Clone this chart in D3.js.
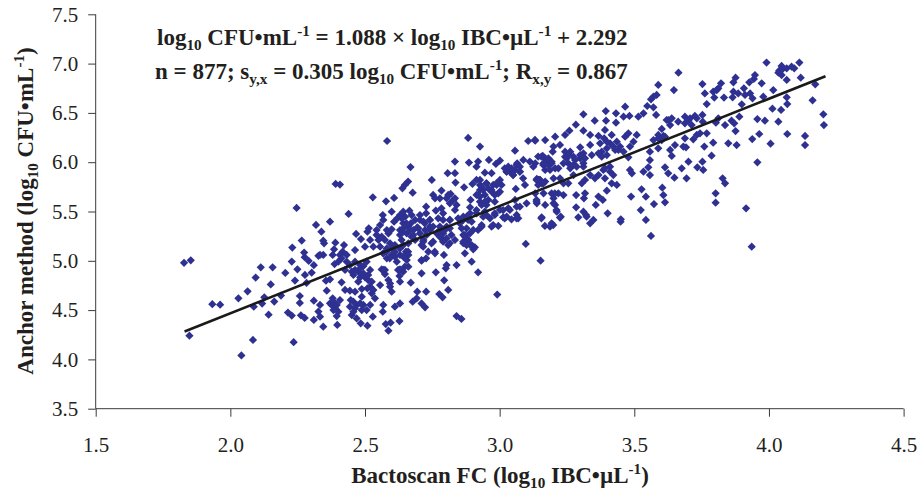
<!DOCTYPE html>
<html><head><meta charset="utf-8">
<script src="https://cdnjs.cloudflare.com/ajax/libs/d3/7.8.5/d3.min.js"></script>
<style>
html,body{margin:0;padding:0;background:#fff}
svg{display:block}
text{font-family:"Liberation Serif",serif;fill:#231f20}
.b{font-weight:bold}
</style></head><body><div id="c"></div>
<script>
const xTicks=[1.5,2.0,2.5,3.0,3.5,4.0,4.5];
const yTicks=[3.5,4.0,4.5,5.0,5.5,6.0,6.5,7.0,7.5];
const lineX=[1.83,4.21];
const lineY=[4.283,6.872];
const pairs=`1.828,4.98 1.853,5.005 1.848,4.24 1.933,4.56 1.962,4.555 2.03,4.62 2.064,4.69 2.094,4.83 2.113,4.934 2.157,4.934 2.15,4.76 2.126,4.63 2.087,4.535 2.118,4.566 2.163,4.586 2.188,4.647 2.142,4.454 2.084,4.197 2.041,4.04 2.235,4.174 2.214,4.475 2.228,4.444 2.262,4.447 2.276,4.42 2.31,4.40 2.327,4.485 2.31,4.596 2.258,4.643 2.258,4.573 2.283,4.775 2.24,4.8 2.277,4.857 2.302,4.88 2.204,4.877 2.249,4.914 2.228,4.992 2.31,4.955 2.291,4.998 2.276,5.036 2.274,5.083 2.23,5.134 2.265,5.205 2.327,5.05 2.318,5.364 2.246,5.536 2.391,5.78 2.407,5.773
2.529,5.644 2.578,5.603 2.608,5.637 2.677,5.691 2.439,5.475 2.37,5.397 2.338,5.295 2.345,5.204 2.348,5.177 2.345,5.059 2.333,5.059 2.39,5.184 2.422,5.16 2.385,5.116 2.38,5.059 2.417,5.093 2.413,5.025 2.387,4.967 2.432,5.059 2.463,5.109 2.467,5.272 2.485,5.221 2.514,5.329 2.509,5.295 2.519,5.211 2.5,5.143 2.543,5.312 2.556,5.363 2.566,5.464 2.568,5.414 2.599,5.498 2.608,5.397 2.63,5.464 2.649,5.448 2.665,5.508 2.642,5.38 2.661,5.346 2.686,5.414 2.704,5.464 2.727,5.549 2.727,5.481 2.717,5.397 2.68,5.312 2.655,5.278 2.63,5.312 2.587,5.278 2.574,5.211 2.55,5.211 2.531,5.143 2.556,5.143 2.581,5.126 2.611,5.16 2.636,5.211 2.661,5.177 2.686,5.211 2.71,5.16 2.729,5.262 2.741,5.346 2.652,5.093 2.661,5.059 2.63,5.059 2.599,5.059 2.581,5.025 2.618,4.991 2.71,5.001 2.727,5.025 2.661,4.94 2.642,4.89 2.63,4.913 2.562,4.913 2.574,4.866 2.628,4.846 2.63,4.788 2.67,4.778 2.587,4.805 2.556,4.754 2.593,4.738 2.599,4.687 2.506,4.991 2.463,4.991 2.444,4.957 2.426,4.907 2.482,4.957 2.475,4.89 2.457,4.856 2.482,4.832 2.494,4.873 2.519,4.907 2.512,4.805 2.519,4.738 2.525,4.67 2.537,4.619 2.413,4.782 2.355,4.798 2.37,4.812 2.358,4.697 2.426,4.704 2.444,4.697 2.463,4.687 2.488,4.714 2.488,4.636 2.457,4.585 2.444,4.535 2.469,4.552 2.494,4.552 2.519,4.552 2.488,4.501 2.451,4.45 2.469,4.416 2.529,4.433 2.484,4.366 2.509,4.342 2.568,4.552 2.566,4.484 2.611,4.535 2.63,4.568 2.694,4.687 2.727,4.687 2.692,4.619 2.677,4.585 2.71,4.568 2.723,4.528 2.577,4.359 2.595,4.372 2.628,4.389 2.587,4.291 2.345,4.332 2.397,4.349 2.407,4.602 2.389,4.569 2.376,4.552 2.383,4.501 2.401,4.484 2.333,4.552 2.333,4.433 2.37,4.569
2.883,6.246 2.927,6.158 3.057,6.117 3.106,6.215 3.131,6.226 2.834,6.006 2.886,5.996 2.92,6.006 2.914,5.955 2.96,6.023 3.001,6.016 2.986,5.982 2.807,5.888 2.834,5.888 2.945,5.894 2.97,5.888 3.019,5.938 3.038,5.904 3.05,5.871 3.065,5.989 3.088,6.023 3.075,5.904 3.112,6.006 3.125,5.955 3.143,6.057 2.748,5.82 2.836,5.793 2.899,5.779 2.868,5.745 2.927,5.82 3.001,5.82 2.951,5.786 2.989,5.769 2.927,5.718 2.97,5.718 2.914,5.668 2.945,5.668 2.995,5.685 3.06,5.729 3.137,5.82 3.143,5.769 2.784,5.712 2.753,5.668 2.778,5.634 2.818,5.678 2.834,5.634 2.815,5.583 2.84,5.566 2.892,5.617 2.927,5.6 2.951,5.566 2.982,5.6 3.057,5.617 3.1,5.583 3.137,5.6 2.763,5.509 2.89,5.543 2.79,5.482 2.815,5.414 2.772,5.431 2.865,5.448 2.89,5.482 2.914,5.482 2.945,5.499 3.001,5.516 3.032,5.533 3.075,5.549 2.982,5.465 3.013,5.441 3.063,5.465 3.044,5.421 3.069,5.431 2.964,5.431 2.896,5.397 2.933,5.363 2.97,5.347 2.995,5.353 2.92,5.313 2.865,5.414 2.877,5.33 2.865,5.262 2.89,5.279 2.79,5.279 2.766,5.279 2.803,5.228 2.753,5.194 2.815,5.178 2.871,5.194 2.89,5.161 2.908,5.137 3.097,5.171
2.793,5.059 2.803,4.957 2.80,4.924 2.84,4.957 2.763,4.883 2.794,4.802 2.809,4.704 2.776,4.663 2.788,4.63 2.896,4.991 2.92,4.883 2.991,4.657 2.84,4.44 2.858,4.41 3.152,5.001 2.871,5.076 2.902,5.116 2.76,5.076 2.71,4.873 2.639,5.735 2.66,5.803 2.648,5.769 2.669,5.951 2.582,6.215
3.466,6.563 3.394,6.519 3.311,6.486 3.432,6.496 3.46,6.462 3.482,6.469 3.515,6.462 3.353,6.421 3.395,6.421 3.432,6.401 3.283,6.381 3.311,6.32 3.259,6.32 3.243,6.276 3.206,6.259 3.169,6.225 3.132,6.218 3.336,6.276 3.367,6.266 3.391,6.327 3.388,6.242 3.416,6.276 3.466,6.259 3.478,6.293 3.509,6.276 3.497,6.208 3.41,6.192 3.435,6.208 3.224,6.175 3.2,6.158 3.197,6.107 3.299,6.151 3.336,6.175 3.484,6.158 3.46,6.107 3.429,6.124 3.398,6.141 3.379,6.107 3.243,6.107 3.262,6.107 3.311,6.09 3.342,6.073 3.16,6.063 3.181,6.039 3.249,6.039 3.274,6.056 3.299,6.039 3.379,6.056 3.132,5.989 3.169,5.989 3.193,5.989 3.218,5.938 3.255,5.989 3.274,5.972 3.311,5.989 3.478,6.05 3.484,5.921 3.491,5.887 3.41,5.955 3.385,5.921 3.336,5.87 3.305,5.786 3.367,5.87 3.391,5.837 3.169,5.921 3.2,5.837 3.15,5.82 3.169,5.803 3.224,5.837 3.237,5.786 3.255,5.786 3.274,5.87 3.138,5.83 3.416,5.786 3.435,5.769 3.398,5.711 3.163,5.684 3.193,5.684 3.237,5.667 3.2,5.634 3.132,5.684 3.284,5.667 3.317,5.684 3.313,5.634 3.367,5.651 3.383,5.617 3.357,5.566 3.488,5.651 3.169,5.566 3.138,5.583 3.206,5.566 3.212,5.498 3.284,5.542 3.311,5.498 3.321,5.465 3.227,5.448 3.401,5.482 3.156,5.441 3.292,5.441 3.45,5.421
3.336,5.38 3.348,5.414 3.323,5.448 3.199,5.363 3.187,5.346 3.224,5.438 3.449,5.397
3.991,7.01 4.047,6.976 4.038,6.928 4.066,6.952 4.047,6.884 4.094,6.952 4.113,7.01 4.118,6.857 4.066,6.834 3.664,6.908 3.589,6.783 3.647,6.732 3.753,6.793 3.876,6.857 3.868,6.81 3.948,6.884 3.944,6.844 3.927,6.81 3.973,6.8 3.822,6.8 3.812,6.749 3.793,6.715 3.762,6.698 3.797,6.655 3.833,6.655 3.868,6.715 3.865,6.658 3.886,6.698 3.907,6.749 3.911,6.682 3.93,6.698 3.939,6.648 3.979,6.665 4.016,6.732 3.899,6.587 3.769,6.59 4.066,6.658 4.068,6.59 4.013,6.543 4.045,6.53 4.172,6.79 4.162,6.628 4.202,6.486 4.204,6.377 3.583,6.682 3.571,6.665 3.562,6.638 3.548,6.57 3.571,6.557 3.534,6.496 3.581,6.479 3.62,6.428 3.639,6.445 3.633,6.377 3.663,6.411 3.688,6.462 3.688,6.394 3.707,6.445 3.725,6.469 3.732,6.445 3.753,6.479 3.713,6.377 3.754,6.411 3.812,6.445 3.803,6.401 3.837,6.377 3.861,6.421 3.871,6.394 3.89,6.462 3.957,6.438 3.985,6.421 4.035,6.411 3.876,6.316 3.602,6.337 3.589,6.276 3.571,6.225 3.614,6.259 3.602,6.225 3.688,6.242 3.719,6.232 3.732,6.276 3.744,6.293 3.769,6.293 3.793,6.198 3.849,6.191 3.88,6.174 3.938,6.235 3.964,6.286 4.006,6.188 4.068,6.286 4.134,6.266 4.134,6.174 3.651,6.174 3.589,6.141 3.558,6.107 3.558,6.022 3.633,6.124 3.639,6.063 3.682,6.158 3.692,6.151 3.76,6.158 3.787,6.066 3.701,6.005 3.753,6.005 3.734,5.948 3.756,5.921 3.676,5.938 3.614,5.948 3.626,5.887 3.649,5.843 3.694,5.836 3.957,5.999 3.828,5.836 3.837,5.786 3.604,5.742 3.527,5.725 3.543,5.65 3.608,5.667 3.614,5.593 3.573,5.576 3.524,5.515 3.543,5.414 3.802,5.684 3.802,5.59 3.915,5.532 3.562,5.252 3.936,5.143 3.558,5.87 3.552,5.948 3.534,5.904
2.62,5.431 2.642,5.498 2.673,5.464 2.67,5.38 2.694,5.339 2.64,5.295 2.599,5.319 2.581,5.312 2.562,5.245 2.593,5.177 2.599,5.126 2.568,5.076 2.611,5.093 2.543,5.262 2.482,4.923 2.463,4.907 2.5,4.832 2.525,4.788 2.509,4.721 2.531,4.704 2.447,4.602 2.463,4.518 2.482,4.569 2.506,4.501 2.457,4.484 2.389,4.518 2.395,4.552 2.38,4.619 2.395,4.44 2.407,5.059 2.401,4.991 2.475,4.788 2.704,5.278 2.723,5.312 2.673,5.245 2.63,5.126 2.655,5.008 2.611,5.042 2.717,5.211 2.574,4.907 2.593,4.771 2.451,4.89 2.432,4.991 2.494,4.947 2.512,4.856
2.927,5.769 2.939,5.718 2.958,5.735 2.976,5.769 2.927,5.651 2.958,5.617 2.933,5.566 2.982,5.668 3.007,5.769 3.026,5.904 3.057,5.921 3.075,5.955 3.044,5.938 2.809,5.668 2.828,5.617 2.76,5.634 2.803,5.634 2.79,5.414 2.803,5.347 2.778,5.347 2.797,5.313 2.815,5.33 2.784,5.228 2.859,5.33 2.871,5.245 2.883,5.211 2.865,5.178 2.902,5.313 2.939,5.448 2.883,5.414 2.846,5.431 2.741,5.414 2.741,5.313 2.753,5.347 3.019,5.431 3.038,5.516 2.834,5.516 2.784,5.532
3.243,6.056 3.255,6.073 3.28,6.022 3.299,6.073 3.317,6.039 3.262,5.938 3.237,5.989 3.286,5.955 3.311,5.955 3.169,6.039 3.162,5.972 3.181,5.972 3.206,5.938 3.187,5.921 3.144,5.82 3.156,5.786 3.398,6.208 3.422,6.158 3.441,6.124 3.373,6.192 3.447,6.158 3.367,6.09 3.398,6.073 3.2,5.667 3.218,5.684 3.2,5.583 3.41,5.904 3.422,5.87 3.391,5.938 3.354,5.837 3.317,5.82
3.589,6.242 3.608,6.266 3.626,6.428 3.701,6.421 4.047,6.935 4.035,6.908 4.084,6.969 3.806,6.732
2.636,5.431 2.654,5.38 2.667,5.312 2.642,5.329 2.679,5.262 2.63,5.262 2.704,5.414 2.722,5.38 2.741,5.414 2.698,5.329 2.778,5.245 2.79,5.194 2.821,5.262 2.834,5.211 2.809,5.16 2.778,5.312 2.871,5.262 2.883,5.211 2.896,5.16 2.877,5.16 2.865,5.194 2.933,5.752 2.951,5.786 2.97,5.701 2.92,5.667 2.945,5.6 2.988,5.786 3.001,5.701 2.914,5.82 3.026,5.904 3.05,5.87 3.075,5.904 3.032,5.955 3.063,5.972 3.087,5.836 3.094,5.769 3.155,6.056 3.174,6.022 3.193,6.005 3.162,5.988 3.149,5.82 3.162,5.786 3.137,5.617 3.205,5.684 3.211,5.515 3.193,5.38 3.155,5.431 3.168,5.353 2.568,5.076 2.592,5.025 2.58,5.092 2.642,5.16 2.66,5.092 2.642,5.042 2.648,4.94 2.623,4.907 2.568,4.907 2.716,5.143 2.735,5.092 2.759,5.092 2.71,5.008 2.716,5.194 2.747,5.177 3.026,5.448 3.063,5.431 2.976,5.363 2.933,5.346 3.013,5.515 3.063,5.549 2.982,5.481 2.951,5.464 2.914,5.515 2.852,5.38 2.877,5.448 2.815,5.414`;
const points=pairs.trim().split(/\s+/).map(s=>s.split(",").map(Number));
const xValues=points.map(p=>p[0]);
const yValues=points.map(p=>p[1]);

const W=921,H=493;
const svg=d3.select("#c").append("svg").attr("width",W).attr("height",H);
const x=d3.scaleLinear().domain([1.5,4.5]).range([95.7,903.6]);
const y=d3.scaleLinear().domain([3.5,7.5]).range([408.7,14.3]);
const fmt=d3.format(".1f");
const ax=svg.append("g").attr("transform","translate(0,408.7)").call(d3.axisBottom(x).tickValues(xTicks).tickFormat(fmt).tickSize(8).tickPadding(20));
const ay=svg.append("g").attr("transform","translate(95.7,0)").call(d3.axisLeft(y).tickValues(yTicks).tickFormat(fmt).tickSize(7.5).tickPadding(10));
[ax,ay].forEach(g=>{g.selectAll("path,line").attr("stroke","#3a3a3a").attr("stroke-width",1);g.selectAll("text").attr("font-size",21).attr("font-family",'"Liberation Serif",serif').attr("fill","#231f20");g.select(".domain").attr("d",null);});
ax.append("line").attr("x1",x(1.5)).attr("x2",x(4.5)).attr("stroke","#3a3a3a");
ay.append("line").attr("y1",y(3.5)).attr("y2",y(7.5)).attr("stroke","#3a3a3a");

const sym=d3.symbol().type(d3.symbolSquare).size(34)();
svg.append("g").selectAll("path").data(xValues).join("path")
 .attr("d",sym).attr("fill","#2e3192")
 .attr("transform",(d,i)=>`translate(${x(d)},${y(yValues[i])}) rotate(45)`);
svg.append("line").attr("x1",x(lineX[0])).attr("y1",y(lineY[0])).attr("x2",x(lineX[1])).attr("y2",y(lineY[1])).attr("stroke","#1a1a1a").attr("stroke-width",2.6);

const FS=23;
function rich(t,parts,fs){parts.forEach(([s,k])=>{const ts=t.append("tspan").text(s);
  if(k==="sub")ts.attr("font-size",fs*0.66).attr("dy",fs*0.22);
  else if(k==="sup")ts.attr("font-size",fs*0.66).attr("dy",-fs*0.38);
  else if(k==="ds")ts.attr("dy",-fs*0.22);
  else if(k==="du")ts.attr("dy",fs*0.38);
 });}
const eq1=svg.append("text").attr("class","b").attr("x",157).attr("y",45).attr("font-size",FS);
rich(eq1,[["log"],["10","sub"],[" CFU•mL","ds"],["-1","sup"],[" = 1.088 × log","du"],["10","sub"],[" IBC•µL","ds"],["-1","sup"],[" + 2.292","du"]],FS);
const eq2=svg.append("text").attr("class","b").attr("x",155).attr("y",79).attr("font-size",FS);
rich(eq2,[["n = 877; s"],["y,x","sub"],[" = 0.305 log","ds"],["10","sub"],[" CFU•mL","ds"],["-1","sup"],["; R","du"],["x,y","sub"],[" = 0.867","ds"]],FS);
const xt=svg.append("text").attr("class","b").attr("x",500).attr("y",483).attr("text-anchor","middle").attr("font-size",FS);
rich(xt,[["Bactoscan FC (log"],["10","sub"],[" IBC•µL","ds"],["-1","sup"],[")","du"]],FS);
const yt=svg.append("text").attr("class","b").attr("transform","translate(33,211) rotate(-90)").attr("text-anchor","middle").attr("font-size",FS);
rich(yt,[["Anchor method (log"],["10","sub"],[" CFU•mL","ds"],["-1","sup"],[")","du"]],FS);
</script></body></html>
